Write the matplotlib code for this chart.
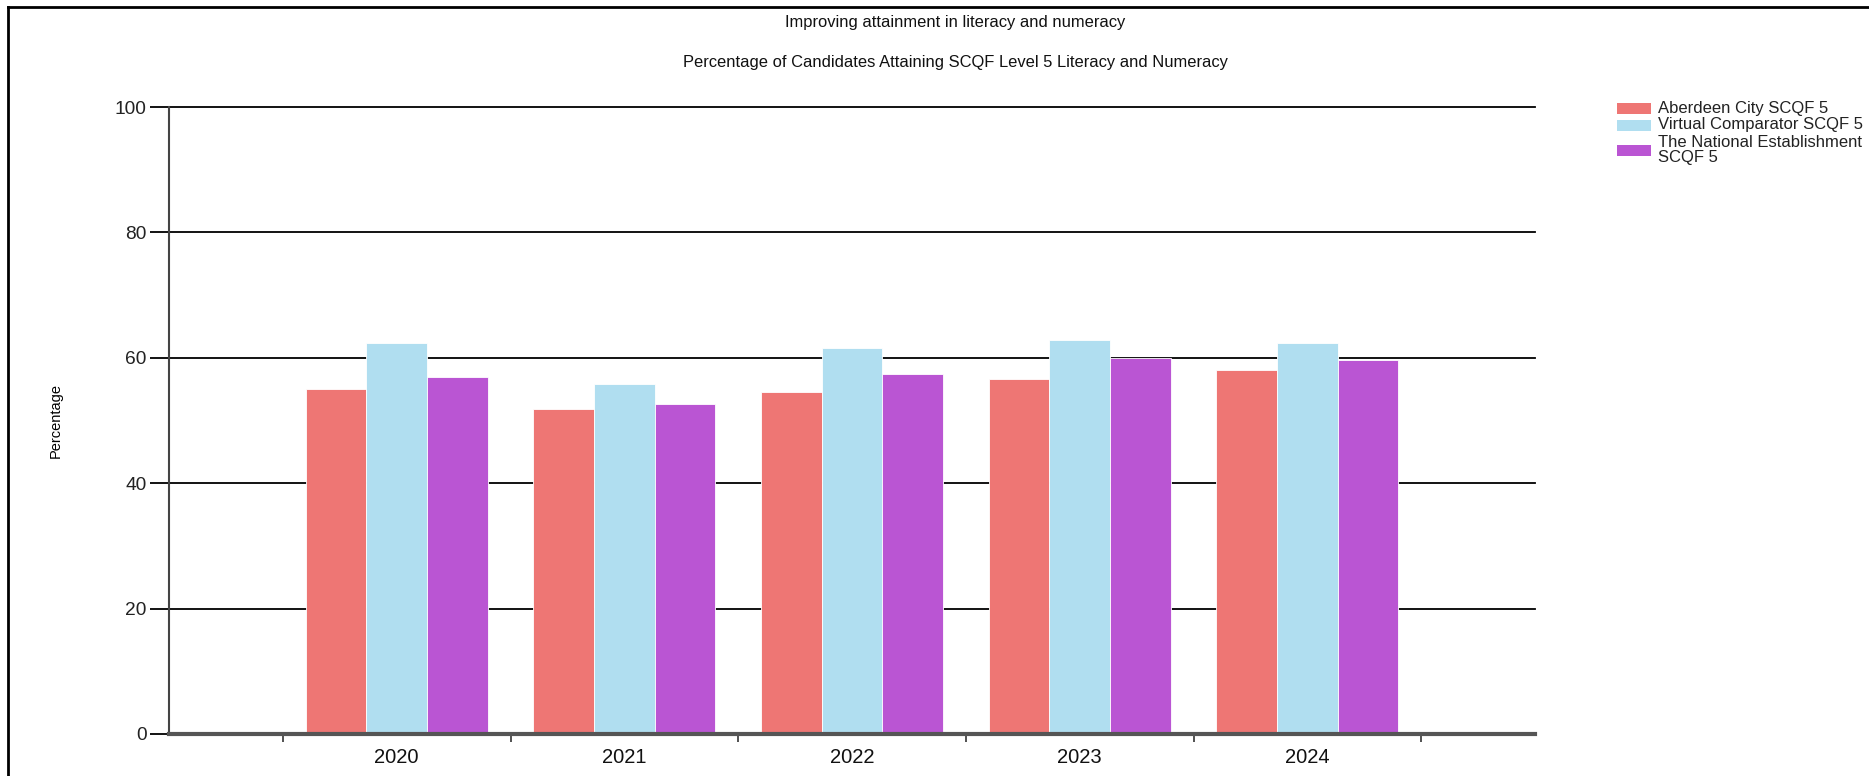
import matplotlib
matplotlib.use("Agg")
import matplotlib.pyplot as plt
from matplotlib.patches import Rectangle
from matplotlib.lines import Line2D
import numpy as np

plt.rcParams['font.family'] = ['Liberation Sans', 'DejaVu Sans']

years = ["2020", "2021", "2022", "2023", "2024"]
series_names = ["Aberdeen City SCQF 5", "Virtual Comparator SCQF 5",
                "The National Establishment\nSCQF 5"]
aberdeen = [55.0, 51.8, 54.5, 56.6, 58.0]
comparator = [62.4, 55.8, 61.6, 62.8, 62.4]
national = [57.0, 52.6, 57.4, 60.0, 59.6]
colors = ["#EE7674", "#B0DEF0", "#BA55D3"]
yticks = [0, 20, 40, 60, 80, 100]

W, H = 1869, 776
fig = plt.figure(figsize=(W / 100, H / 100), dpi=100)
ax = fig.add_axes([169 / W, 1 - 734 / H, (1535 - 169) / W, (734 - 107) / H])

x = np.arange(len(years))
bw = 0.8 / 3
for i, (vals, c) in enumerate(zip([aberdeen, comparator, national], colors)):
    ax.bar(x + (i - 1) * bw, vals, width=bw, color=c, edgecolor='white',
           linewidth=0.6, zorder=3)

ax.set_xlim(-1, 5)
ax.set_ylim(0, 100)
ax.set_yticks(yticks)
ax.yaxis.grid(True, color='black', linewidth=1.3, zorder=1)
ax.set_axisbelow(True)
for gl in ax.yaxis.get_gridlines():
    gl.set_clip_on(False)
for s in ['top', 'right']:
    ax.spines[s].set_visible(False)
ax.spines['left'].set_color('#444444')
ax.spines['left'].set_linewidth(1.5)
ax.spines['bottom'].set_color('#555555')
ax.spines['bottom'].set_linewidth(3)
ax.spines['bottom'].set_zorder(4)

ax.tick_params(axis='y', length=14, width=1.3, color='black', labelsize=13.8,
               pad=2, labelcolor='#222222')
ax.set_xticks(x)
ax.set_xticklabels(years)
ax.set_xticks(np.arange(-0.5, 5.0, 1.0), minor=True)
ax.tick_params(axis='x', which='major', length=0, pad=10, labelsize=14.5,
               labelcolor='#111111')
ax.tick_params(axis='x', which='minor', length=6, width=1.2, color='#333333')

ax.set_ylabel("Percentage", fontsize=10.5)
ax.yaxis.set_label_coords((63 - 169) / (1535 - 169), 0.5)

fig.text(955 / W, 1 - 22 / H, "Improving attainment in literacy and numeracy",
         ha='center', va='center', fontsize=11.9, color='#111111')
fig.text(955 / W, 1 - 62 / H,
         "Percentage of Candidates Attaining SCQF Level 5 Literacy and Numeracy",
         ha='center', va='center', fontsize=11.9, color='#111111')

# legend
rows_y = [108, 125, 150]
for name, c, yy in zip(series_names, colors, rows_y):
    fig.add_artist(Rectangle((1617 / W, 1 - (yy + 5.5) / H), 34 / W, 11 / H,
                             transform=fig.transFigure, facecolor=c,
                             edgecolor='none'))
    fig.text(1658 / W, 1 - yy / H, name, ha='left', va='center',
             fontsize=12, color='#222222', linespacing=0.92)

# figure frame (top and left edges)
fig.add_artist(Line2D([8 / W, 1], [1 - 7 / H, 1 - 7 / H], transform=fig.transFigure,
                      color='black', linewidth=2))
fig.add_artist(Line2D([8 / W, 8 / W], [0, 1 - 7 / H], transform=fig.transFigure,
                      color='black', linewidth=2))

fig.savefig("out.png", dpi=100)
